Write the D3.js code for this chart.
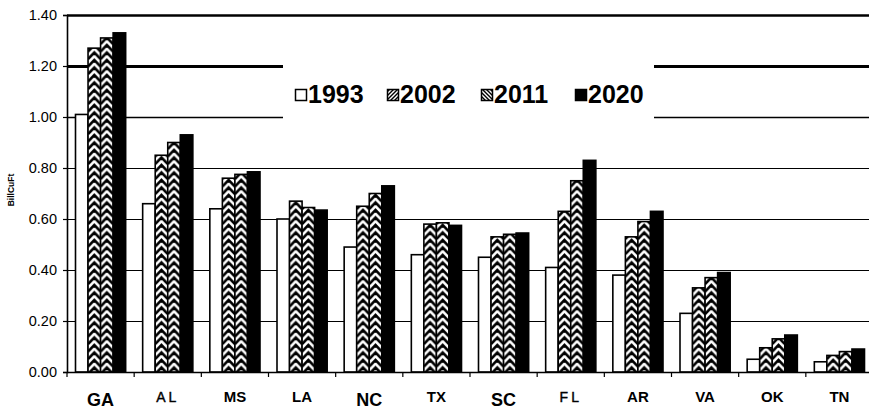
<!DOCTYPE html>
<html>
<head>
<meta charset="utf-8">
<script src="https://cdn.jsdelivr.net/npm/d3@7/dist/d3.min.js"></script>
<style>
  html, body { margin: 0; padding: 0; background: #fff; }
  svg { display: block; }
  text { font-family: "Liberation Sans", Arial, sans-serif; fill: #000; }
</style>
</head>
<body>
<svg id="chart" width="869" height="412"></svg>
<script>
// Growing stock volume by state, billion cubic feet
const categories = ["GA", "AL", "MS", "LA", "NC", "TX", "SC", "FL", "AR", "VA", "OK", "TN"];
const years = ["1993", "2002", "2011", "2020"];
const v1993 = [1.01, 0.66, 0.64, 0.60, 0.49, 0.46, 0.45, 0.41, 0.38, 0.23, 0.05, 0.04];
const v2002 = [1.27, 0.85, 0.76, 0.67, 0.65, 0.58, 0.53, 0.63, 0.53, 0.33, 0.095, 0.065];
const v2011 = [1.31, 0.90, 0.775, 0.645, 0.70, 0.585, 0.54, 0.75, 0.59, 0.37, 0.13, 0.08];
const v2020 = [1.33, 0.93, 0.785, 0.635, 0.73, 0.575, 0.545, 0.83, 0.63, 0.39, 0.145, 0.09];
const yTicks = [0, 0.2, 0.4, 0.6, 0.8, 1.0, 1.2, 1.4];
const yTitle = "BillCuFt";

const seriesValues = [v1993, v2002, v2011, v2020];

(function () {
const svg = d3.select("#chart");
const pLeft = 67, pRight = 873, pTop = 15, pBottom = 372;

const x = d3.scaleBand().domain(categories).range([pLeft, pRight]).paddingInner(0).paddingOuter(0);
const xs = d3.scaleBand().domain(years).range([8.5, x.bandwidth() - 8.5]).padding(0);
const y = d3.scaleLinear().domain([0, 1.4]).range([pBottom, pTop]);

const defs = svg.append("defs");

// Gridlines (the top two are drawn heavier)
const gridW = t => t >= 1.39 ? 2.5 : (t >= 1.19 ? 3 : (t >= 0.99 ? 1.6 : 1.1));
svg.append("g").selectAll("line")
  .data(yTicks.filter(t => t > 0))
  .join("line")
  .attr("x1", pLeft).attr("x2", 869)
  .attr("y1", d => Math.round(y(d)) + 0.5).attr("y2", d => Math.round(y(d)) + 0.5)
  .attr("stroke", "#000")
  .attr("stroke-width", d => gridW(d));

// Legend background hides the gridlines behind it
svg.append("rect")
  .attr("x", 283).attr("y", 56).attr("width", 371).attr("height", 66)
  .attr("fill", "#fff");

// Bars
const cells = [];
categories.forEach((c, i) => {
  years.forEach((yr, j) => {
    cells.push({ cat: c, year: yr, j, value: seriesValues[j][i] });
  });
});

const period = 7.5;
cells.forEach((d, k) => {
  if (d.j === 1 || d.j === 2) {
    const bx = x(d.cat) + xs(d.year);
    const w = xs.bandwidth();
    const p = defs.append("pattern")
      .attr("id", "chev" + k)
      .attr("patternUnits", "userSpaceOnUse")
      .attr("x", bx).attr("y", 0)
      .attr("width", w).attr("height", period);
    p.append("rect").attr("width", w).attr("height", period).attr("fill", "#fff");
    let dpath = "";
    for (let m = -1; m <= 2; m++) {
      const o = m * period;
      dpath += `M0,${o + 6.5}L${w / 2},${o}L${w},${o + 6.5}`;
    }
    p.append("path").attr("d", dpath).attr("fill", "none")
      .attr("stroke", "#000").attr("stroke-width", 2.6);
    d.fill = `url(#chev${k})`;
  } else {
    d.fill = d.j === 3 ? "#000" : "#fff";
  }
});

svg.append("g").selectAll("rect")
  .data(cells)
  .join("rect")
  .attr("x", d => x(d.cat) + xs(d.year))
  .attr("y", d => y(d.value))
  .attr("width", xs.bandwidth())
  .attr("height", d => y(0) - y(d.value))
  .attr("fill", d => d.fill)
  .attr("stroke", "#000")
  .attr("stroke-width", 1.6);

// Y axis
const yAxis = d3.axisLeft(y).tickValues(yTicks).tickFormat(d3.format(".2f")).tickSize(4).tickPadding(6);
const gy = svg.append("g").attr("transform", `translate(${pLeft},0)`).call(yAxis);
gy.select(".domain").attr("stroke", "#000").attr("stroke-width", 1.6);
gy.selectAll(".tick line").attr("stroke", "#000").attr("stroke-width", 1.2);
gy.selectAll(".tick text")
  .attr("font-family", "'Liberation Sans', Arial, sans-serif")
  .attr("font-size", 14.5).attr("fill", "#000");

// X axis with ticks at category boundaries
svg.append("line")
  .attr("x1", pLeft).attr("x2", 869)
  .attr("y1", pBottom + 0.5).attr("y2", pBottom + 0.5)
  .attr("stroke", "#000").attr("stroke-width", 1.6);
svg.append("g").selectAll("line")
  .data(categories)
  .join("line")
  .attr("x1", d => x(d)).attr("x2", d => x(d))
  .attr("y1", pBottom).attr("y2", pBottom + 5)
  .attr("stroke", "#000").attr("stroke-width", 1.2);

const bigLabels = new Set(["GA", "NC", "SC"]);
const lightLabels = new Set(["AL", "FL"]);
svg.append("g").selectAll("text")
  .data(categories)
  .join("text")
  .attr("x", d => x(d) + x.bandwidth() / 2)
  .attr("y", d => bigLabels.has(d) ? 406 : 402)
  .attr("text-anchor", "middle")
  .attr("font-size", d => bigLabels.has(d) ? 18 : (lightLabels.has(d) ? 14 : 15))
  .attr("font-weight", d => lightLabels.has(d) ? "normal" : "bold")
  .attr("stroke", d => lightLabels.has(d) ? "#000" : "none")
  .attr("stroke-width", 0.4)
  .attr("letter-spacing", d => lightLabels.has(d) ? 3 : 0)
  .text(d => d);

// Y axis title
svg.append("text")
  .attr("transform", "translate(14,190) rotate(-90)")
  .attr("text-anchor", "middle")
  .attr("font-size", 8.5)
  .attr("font-weight", "bold")
  .text(yTitle);

// Legend
const legendX = [295, 387, 481, 575];
const sw = 11;
const lp1 = defs.append("pattern").attr("id", "legFwd").attr("patternUnits", "userSpaceOnUse")
  .attr("width", 4).attr("height", 4);
lp1.append("rect").attr("width", 4).attr("height", 4).attr("fill", "#fff");
lp1.append("path").attr("d", "M-1,1L1,-1M0,4L4,0M3,5L5,3").attr("stroke", "#000").attr("stroke-width", 1.4);
const lp2 = defs.append("pattern").attr("id", "legBack").attr("patternUnits", "userSpaceOnUse")
  .attr("width", 4).attr("height", 4);
lp2.append("rect").attr("width", 4).attr("height", 4).attr("fill", "#fff");
lp2.append("path").attr("d", "M-1,3L1,5M0,0L4,4M3,-1L5,1").attr("stroke", "#000").attr("stroke-width", 1.4);
const legFills = ["#fff", "url(#legFwd)", "url(#legBack)", "#000"];

const lg = svg.append("g").selectAll("g")
  .data(years)
  .join("g")
  .attr("transform", (d, i) => `translate(${legendX[i]},0)`);
lg.append("rect")
  .attr("x", 0.5).attr("y", 89.5).attr("width", sw).attr("height", sw)
  .attr("fill", (d, i) => legFills[i])
  .attr("stroke", "#000").attr("stroke-width", 1.5);
lg.append("text")
  .attr("x", sw + 2).attr("y", 103)
  .attr("font-size", 25)
  .attr("font-weight", "bold")
  .text(d => d);
})();
</script>
</body>
</html>
